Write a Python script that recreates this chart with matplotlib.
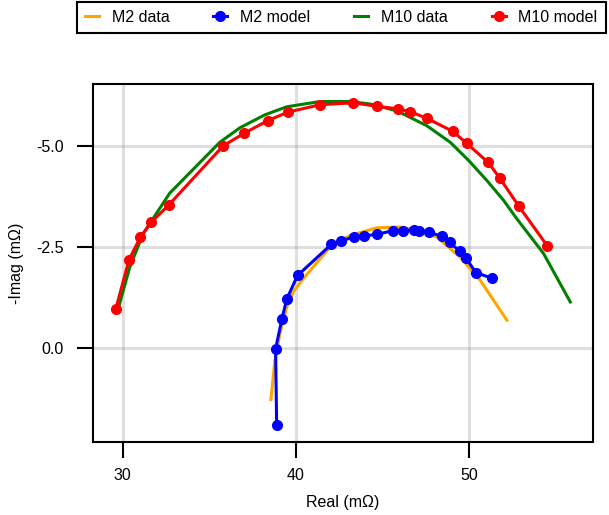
import matplotlib
matplotlib.use("Agg")
import matplotlib.pyplot as plt
from matplotlib.ticker import FixedLocator, FormatStrFormatter

plt.rcParams['font.family'] = ['Liberation Sans', 'DejaVu Sans']
plt.rcParams['axes.unicode_minus'] = False
FS = 11.5

# M2 data (orange curve)
m2_data_re = [38.56, 38.79, 39.08, 39.47, 39.85, 40.43, 41.97, 43.13, 44.67, 46.00, 46.98, 48.14, 49.49, 50.64, 52.18]
m2_data_im = [1.28, 0.30, -0.36, -1.01, -1.39, -1.72, -2.50, -2.79, -2.98, -3.00, -2.93, -2.75, -2.25, -1.68, -0.69]

# M2 model (blue points)
m2_model_re = [38.89, 38.83, 39.20, 39.47, 40.10, 42.05, 42.62, 43.36, 43.94, 44.71, 45.60, 46.21, 46.83, 47.13,
               47.68, 48.43, 48.87, 49.45, 49.83, 50.39, 51.32]
m2_model_im = [1.90, 0.02, -0.73, -1.21, -1.80, -2.57, -2.65, -2.76, -2.78, -2.82, -2.91, -2.91, -2.93, -2.91,
               -2.87, -2.77, -2.62, -2.40, -2.22, -1.87, -1.73]

# M10 data (green curve)
m10_data_re = [29.73, 30.41, 31.18, 32.72, 35.61, 36.77, 38.21, 39.47, 41.39, 43.10, 44.28, 45.83, 47.56, 48.91,
               49.97, 51.03, 51.99, 52.76, 54.30, 55.84]
m10_data_im = [-0.95, -2.00, -2.83, -3.84, -5.10, -5.46, -5.78, -5.98, -6.11, -6.11, -6.05, -5.88, -5.51, -5.10,
               -4.65, -4.15, -3.66, -3.20, -2.34, -1.14]

# M10 model (red points)
m10_model_re = [29.60, 30.37, 31.03, 31.66, 32.65, 35.80, 37.00, 38.39, 39.56, 41.39, 43.32, 44.71, 45.88, 46.60,
                47.58, 49.06, 49.87, 51.10, 51.76, 52.86, 54.50]
m10_model_im = [-0.96, -2.19, -2.75, -3.12, -3.54, -5.01, -5.32, -5.64, -5.85, -6.03, -6.08, -5.99, -5.93, -5.86,
                -5.69, -5.37, -5.07, -4.60, -4.22, -3.52, -2.54]

x_ticks = [30, 40, 50]
y_ticks = [-5.0, -2.5, 0.0]

fig = plt.figure(figsize=(6.09, 5.15), dpi=100)
ax = fig.add_axes([93/609, 1-442/515, 500/609, 358/515])

lw = 2.2
ms = 7
l1, = ax.plot(m2_data_re, m2_data_im, color='#FFA500', lw=lw, label='M2 data')
l2, = ax.plot(m2_model_re, m2_model_im, color='#0000FF', lw=lw, marker='o', ms=ms, label='M2 model')
l3, = ax.plot(m10_data_re, m10_data_im, color='#008000', lw=lw, label='M10 data')
l4, = ax.plot(m10_model_re, m10_model_im, color='#FF0000', lw=lw, marker='o', ms=ms, label='M10 model')

ax.set_xlim(28.29, 57.15)
ax.set_ylim(2.33, -6.545)
ax.xaxis.set_major_locator(FixedLocator(x_ticks))
ax.yaxis.set_major_locator(FixedLocator(y_ticks))
ax.xaxis.set_major_formatter(FormatStrFormatter('%d'))
ax.yaxis.set_major_formatter(FormatStrFormatter('%.1f'))

ax.grid(True, color='0.5', alpha=0.25, lw=2.2)
ax.set_axisbelow(True)
for s in ax.spines.values():
    s.set_linewidth(1.5)
ax.tick_params(axis='both', direction='out', length=11.5, width=1.5, labelsize=FS)
ax.tick_params(axis='x', pad=7)
ax.tick_params(axis='y', pad=9.5)

ax.set_xlabel('Real (mΩ)', fontsize=FS, labelpad=9)
ax.set_ylabel('-Imag (mΩ)', fontsize=FS, labelpad=9)

leg = fig.legend(handles=[l1, l2, l3, l4], loc='upper left',
                 bbox_to_anchor=(77/609, 1-2/515), bbox_transform=fig.transFigure,
                 borderaxespad=0, ncol=4, frameon=True, fancybox=False,
                 edgecolor='black', framealpha=1, fontsize=FS,
                 handlelength=0.875, handletextpad=0.8, columnspacing=2.75, borderpad=0.5)
leg.get_frame().set_linewidth(1.5)

fig.savefig('out.png', dpi=100)
